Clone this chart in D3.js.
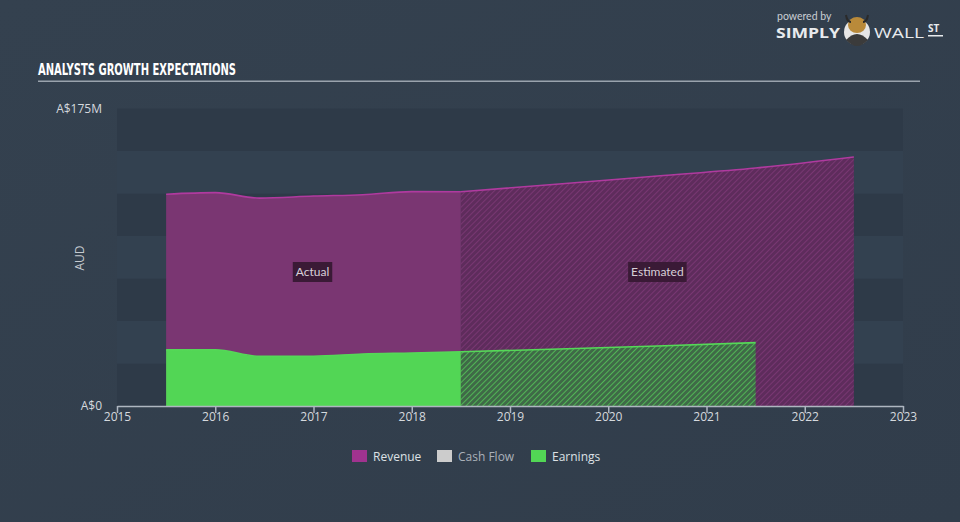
<!DOCTYPE html>
<html><head><meta charset="utf-8">
<script src="https://cdn.jsdelivr.net/npm/d3@7"></script>
<style>
html,body{margin:0;padding:0;background:#333f4e;}
svg{display:block;}
</style></head>
<body>
<svg id="c" width="960" height="522"></svg>
<script>
// ---- data ----
const yearTicks = [2015, 2016, 2017, 2018, 2019, 2020, 2021, 2022, 2023];
const revenueActualX = [2015.5, 2016.0, 2016.45, 2017.0, 2017.5, 2018.0, 2018.5];
const revenueActual   = [124.6, 125.5, 122.3, 123.5, 124.3, 126.1, 126.0];
const revenueEstX = [2018.5, 2019.5, 2020.5, 2021.5, 2022.5];
const revenueEst   = [126.0, 130.6, 135.3, 140.0, 146.5];
const earningsActualX = [2015.5, 2016.0, 2016.45, 2017.0, 2017.5, 2018.0, 2018.5];
const earningsActual   = [33.0, 33.1, 29.2, 29.3, 30.6, 31.2, 31.9];
const earningsEstX = [2018.5, 2019.5, 2020.5, 2021.5];
const earningsEst   = [31.9, 33.5, 35.3, 37.3];
const yTickLabels = ["A$0", "A$175M"];
const legendItems = ["Revenue", "Cash Flow", "Earnings"];

const svg = d3.select("#c");
const W = 960, H = 522;
const defs = svg.append("defs");

// background gradient
const bg = defs.append("linearGradient").attr("id","bg").attr("x1","0").attr("y1","0").attr("x2","1").attr("y2","1");
bg.append("stop").attr("offset","0").attr("stop-color","#34414f");
bg.append("stop").attr("offset","1").attr("stop-color","#313d4b");
svg.append("rect").attr("width",W).attr("height",H).attr("fill","url(#bg)");

// hatch patterns
function hatch(id, base, stroke){
  const p = defs.append("pattern").attr("id",id).attr("patternUnits","userSpaceOnUse")
    .attr("width",4).attr("height",4).attr("patternTransform","rotate(45)");
  p.append("rect").attr("width",4).attr("height",4).attr("fill",base);
  p.append("line").attr("x1",0).attr("y1",0).attr("x2",0).attr("y2",4).attr("stroke",stroke).attr("stroke-width",1.6);
}
hatch("hRev", "#5e2c5c", "#7e3a78");
hatch("hEarn", "#3f6a47", "#56c95a");

const x = d3.scaleLinear().domain([2015, 2023]).range([117, 903]);
const y = d3.scaleLinear().domain([0, 175]).range([406, 108.5]);

// bands
const bandVals = d3.range(0, 175, 25);
svg.append("g").selectAll("rect").data(bandVals).join("rect")
  .attr("x", x(2015)).attr("width", x(2023) - x(2015))
  .attr("y", d => y(d + 25)).attr("height", d => y(d) - y(d + 25))
  .attr("fill", (d, i) => i % 2 === 0 ? "#2e3a48" : "#334150");

const curve = d3.curveMonotoneX;
const zipper = (xs, vs) => xs.map((v, i) => ({x: v, v: vs[i]}));
const rA = zipper(revenueActualX, revenueActual);
const rE = zipper(revenueEstX, revenueEst);
const eA = zipper(earningsActualX, earningsActual);
const eE = zipper(earningsEstX, earningsEst);

const area = d3.area().x(d => x(d.x)).y0(y(0)).y1(d => y(d.v)).curve(curve);
const line = d3.line().x(d => x(d.x)).y(d => y(d.v)).curve(curve);

// revenue
svg.append("path").attr("d", area(rA)).attr("fill", "#7a3672");
svg.append("path").attr("d", area(rE)).attr("fill", "url(#hRev)");
// earnings
svg.append("path").attr("d", area(eA)).attr("fill", "#52d655");
svg.append("path").attr("d", area(eE)).attr("fill", "url(#hEarn)");

// lines
svg.append("path").attr("d", line(rA)).attr("fill","none").attr("stroke","#b03a9f").attr("stroke-width",1.6);
svg.append("path").attr("d", line(rE)).attr("fill","none").attr("stroke","#b03a9f").attr("stroke-width",1.6);
svg.append("path").attr("d", line(eA)).attr("fill","none").attr("stroke","#55d858").attr("stroke-width",1.6);
svg.append("path").attr("d", line(eE)).attr("fill","none").attr("stroke","#55d858").attr("stroke-width",1.6);

// labels Actual / Estimated
function tag(cx, cy, txt){
  const g = svg.append("g");
  const t = g.append("text").attr("x", cx).attr("y", cy + 4).attr("text-anchor","middle")
    .attr("font-family","Lato, 'Open Sans', sans-serif").attr("font-size",12).attr("fill","#d8d0d8").text(txt);
  const bb = t.node().getBBox();
  g.insert("rect","text").attr("x", bb.x - 3).attr("y", cy - 10).attr("width", bb.width + 6).attr("height", 20)
    .attr("fill","#3a1a36");
}
tag(x(2016.99), 272, "Actual");
tag(x(2020.5), 272, "Estimated");

// x axis
const xAxis = d3.axisBottom(x).tickValues(yearTicks).tickFormat(d3.format("d")).tickSize(6).tickSizeOuter(0);
const gx = svg.append("g").attr("transform", "translate(0,406)").call(xAxis);
gx.select(".domain").attr("stroke","#aeb6c0").attr("stroke-width",1.5);
gx.selectAll(".tick line").attr("stroke","#aeb6c0").attr("stroke-width",1.5).attr("y1",0).attr("y2",7);
gx.selectAll(".tick text").attr("fill","#d5d9de").attr("font-size",12)
  .attr("font-family","'Open Sans', Lato, sans-serif").attr("dy","0.55em").attr("y",8);

// y labels
svg.append("g").selectAll("text").data([0, 175]).join("text")
  .attr("x", 102).attr("y", d => y(d) + 4).attr("text-anchor","end")
  .attr("font-family","'Open Sans', Lato, sans-serif").attr("font-size",12).attr("fill","#d5d9de")
  .text((d, i) => yTickLabels[i]);
svg.append("text").attr("transform","translate(84,258) rotate(-90)").attr("text-anchor","middle")
  .attr("font-family","'Open Sans', Lato, sans-serif").attr("font-size",12).attr("fill","#c5cad0").text("AUD");

// title
svg.append("text").attr("x", 38).attr("y", 75)
  .attr("font-family","'DejaVu Sans Condensed', 'Liberation Sans Narrow', sans-serif").attr("font-weight","bold")
  .attr("font-size",16).attr("fill","#ffffff").attr("textLength",198).attr("lengthAdjust","spacingAndGlyphs")
  .text("ANALYSTS GROWTH EXPECTATIONS");
svg.append("rect").attr("x",38).attr("y",80.5).attr("width",882).attr("height",1.5).attr("fill","#9aa3ad");

// legend
const legColors = ["#a0338f", "#cccccc", "#52d655"];
const legX = [352, 437, 531];
const lg = svg.append("g");
legendItems.forEach((name, i) => {
  lg.append("rect").attr("x", legX[i]).attr("y", 450).attr("width", 15).attr("height", 12).attr("fill", legColors[i]);
  lg.append("text").attr("x", legX[i] + 21).attr("y", 460.5)
    .attr("font-family","'Open Sans', Lato, sans-serif").attr("font-size",12)
    .attr("fill", i === 1 ? "#aab1ba" : "#dde1e5").text(name);
});

// logo
const logo = svg.append("g");
logo.append("text").attr("x", 777).attr("y", 20).attr("font-family","Lato, sans-serif").attr("font-size",10.5)
  .attr("fill","#c9ced4").text("powered by");
logo.append("text").attr("x", 776).attr("y", 38).attr("font-family","'Open Sans', Lato, sans-serif").attr("font-weight","bold")
  .attr("font-size",15).attr("fill","#e8ebee").attr("textLength",64).attr("lengthAdjust","spacingAndGlyphs").text("SIMPLY");
logo.append("circle").attr("cx", 857).attr("cy", 32).attr("r", 13).attr("fill","#e6e6e6");
logo.append("path").attr("d","M846,40 Q857,28 868,40 Q862,46 857,46 Q852,46 846,40Z").attr("fill","#3b3b3b");
logo.append("ellipse").attr("cx",857).attr("cy",25).attr("rx",9).attr("ry",8).attr("fill","#b98a3a");
logo.append("path").attr("d","M846,15 Q847,22 851,22 M868,15 Q867,22 863,22").attr("stroke","#2a2a2a").attr("stroke-width",2).attr("fill","none");
logo.append("text").attr("x", 874).attr("y", 38).attr("font-family","'Open Sans', Lato, sans-serif")
  .attr("font-size",15).attr("fill","#e8ebee").attr("textLength",50).attr("lengthAdjust","spacingAndGlyphs").text("WALL");
logo.append("text").attr("x", 928).attr("y", 32).attr("font-family","'Open Sans', Lato, sans-serif").attr("font-weight","bold")
  .attr("font-size",10).attr("fill","#e8ebee").text("ST");
logo.append("rect").attr("x",928).attr("y",35).attr("width",15).attr("height",1.5).attr("fill","#e8ebee");
</script>
</body></html>
